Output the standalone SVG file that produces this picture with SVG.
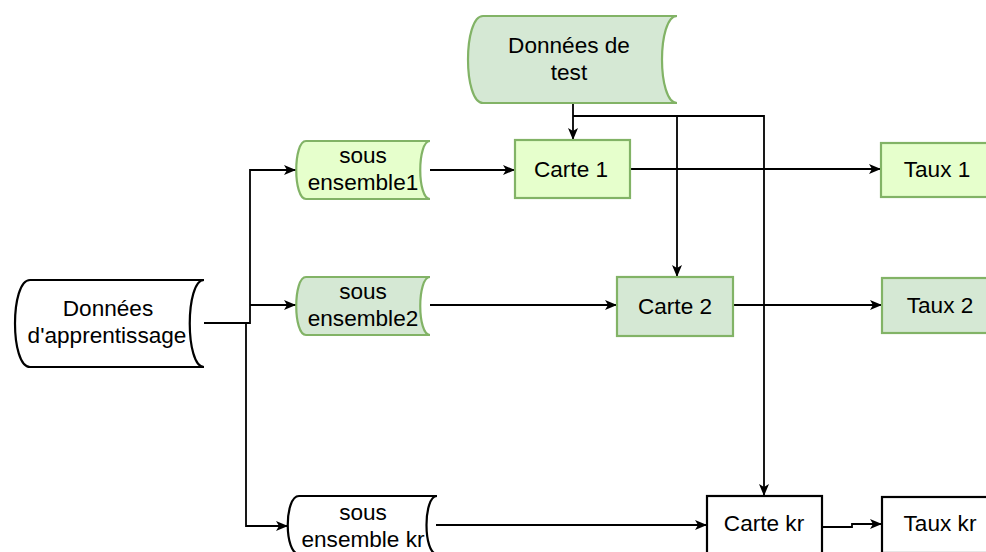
<svg xmlns="http://www.w3.org/2000/svg" width="986" height="552" viewBox="0 0 986 552">
  <style>
    .lbl { font-family: "Liberation Sans", Arial, Helvetica, sans-serif; font-size: 22.6px; fill: #000; text-anchor: middle; }
    .pale { fill: #e6ffcc; stroke: #82b366; stroke-width: 2.2; }
    .mid { fill: #d5e8d4; stroke: #82b366; stroke-width: 2.2; }
    .plain { fill: #ffffff; stroke: #000000; stroke-width: 2.2; }
    .edge { fill: none; stroke: #000000; stroke-width: 1.8; }
  </style>
  <defs>
    <marker id="arrow" viewBox="0 0 12 10" refX="12" refY="5" markerWidth="12" markerHeight="10" markerUnits="userSpaceOnUse" orient="auto">
      <path d="M0,0 L12,5 L0,10 L3,5 z" fill="#000000"/>
    </marker>
  </defs>
  <rect width="986" height="552" fill="#ffffff"/>

  <!-- connectors -->
  <g id="connectors">
    <path class="edge" d="M204,323 H250 V170 H296" marker-end="url(#arrow)"/>
    <path class="edge" d="M250,305 H296" marker-end="url(#arrow)"/>
    <path class="edge" d="M246,323 V526 H288" marker-end="url(#arrow)"/>
    <path class="edge" d="M430,170 H515" marker-end="url(#arrow)"/>
    <path class="edge" d="M430,305 H617" marker-end="url(#arrow)"/>
    <path class="edge" d="M436,525 H707" marker-end="url(#arrow)"/>
    <path class="edge" d="M573,103 V140" marker-end="url(#arrow)"/>
    <path class="edge" d="M573,116 H677 V277" marker-end="url(#arrow)"/>
    <path class="edge" d="M677,116 H764 V496" marker-end="url(#arrow)"/>
    <path class="edge" d="M630,169 H881" marker-end="url(#arrow)"/>
    <path class="edge" d="M733,305 H882" marker-end="url(#arrow)"/>
    <path class="edge" d="M822,527 H852 V524 H882" marker-end="url(#arrow)"/>
  </g>

  <!-- stored-data nodes: rounded left side, concave right side -->
  <g id="donnees-test">
    <path class="mid" d="M483,16 H677 C657,16 657,103 677,103 H483 C463,103 463,16 483,16 Z"/>
    <text class="lbl" x="569" y="53">Données de</text>
    <text class="lbl" x="569" y="80">test</text>
  </g>
  <g id="donnees-apprentissage">
    <path class="plain" d="M30,280 H204 C185,280 185,367 204,367 H30 C10,367 10,280 30,280 Z"/>
    <text class="lbl" x="108" y="316">Données</text>
    <text class="lbl" x="107" y="343">d'apprentissage</text>
  </g>
  <g id="sous-ensemble1">
    <path class="pale" d="M306,141 H430 C417,141 417,199 430,199 H306 C293,199 293,141 306,141 Z"/>
    <text class="lbl" x="363" y="163">sous</text>
    <text class="lbl" x="363" y="190">ensemble1</text>
  </g>
  <g id="sous-ensemble2">
    <path class="mid" d="M306,277 H430 C417,277 417,335 430,335 H306 C293,335 293,277 306,277 Z"/>
    <text class="lbl" x="363" y="299">sous</text>
    <text class="lbl" x="363" y="326">ensemble2</text>
  </g>
  <g id="sous-ensemble-kr">
    <path class="plain" d="M299,496 H437 C423,496 423,554 437,554 H299 C284,554 284,496 299,496 Z"/>
    <text class="lbl" x="363" y="520">sous</text>
    <text class="lbl" x="363" y="547">ensemble kr</text>
  </g>

  <!-- process nodes -->
  <g id="carte1">
    <rect class="pale" x="515" y="140" width="115" height="58"/>
    <text class="lbl" x="571" y="177">Carte 1</text>
  </g>
  <g id="carte2">
    <rect class="mid" x="617" y="277" width="116" height="59"/>
    <text class="lbl" x="675" y="314">Carte 2</text>
  </g>
  <g id="carte-kr">
    <rect class="plain" x="707" y="496" width="115" height="60"/>
    <text class="lbl" x="764" y="531">Carte kr</text>
  </g>

  <!-- rate nodes -->
  <g id="taux1">
    <rect class="pale" x="881" y="143" width="113" height="54"/>
    <text class="lbl" x="937" y="177">Taux 1</text>
  </g>
  <g id="taux2">
    <rect class="mid" x="882" y="278" width="116" height="55"/>
    <text class="lbl" x="940" y="313">Taux 2</text>
  </g>
  <g id="taux-kr">
    <rect class="plain" x="882" y="497" width="116" height="56"/>
    <text class="lbl" x="940" y="531">Taux kr</text>
  </g>
</svg>
